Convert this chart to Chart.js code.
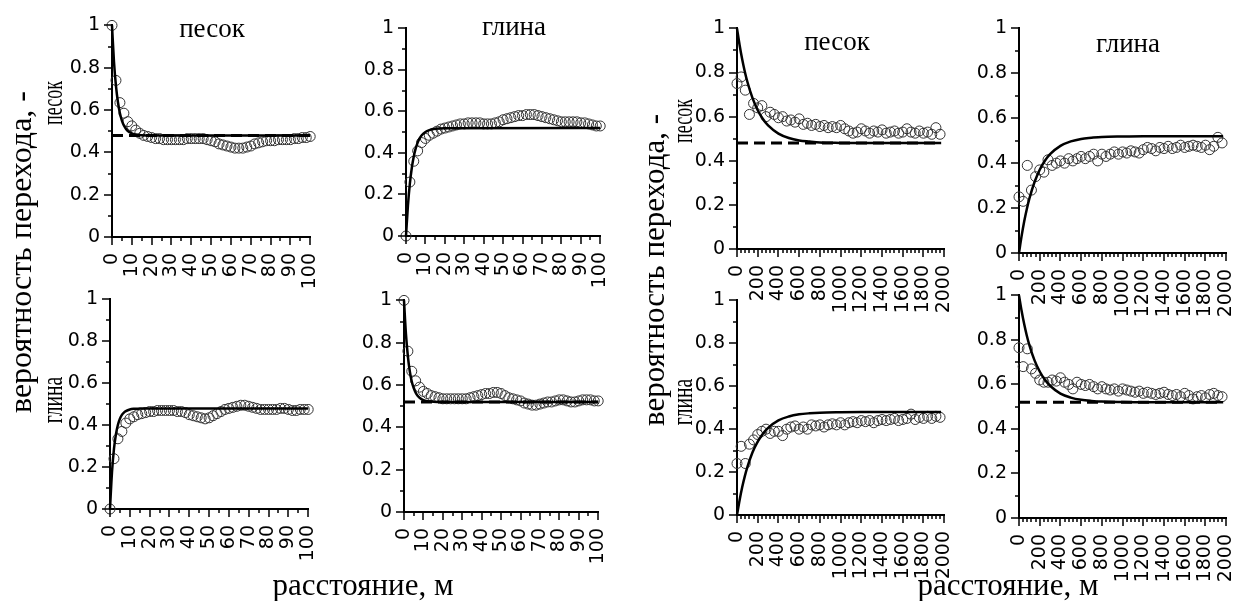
<!DOCTYPE html>
<html>
<head>
<meta charset="utf-8">
<script src="https://cdn.jsdelivr.net/npm/chart.js@4.4.0/dist/chart.umd.min.js"></script>
<style>
body { margin: 0; width: 1252px; height: 601px; overflow: hidden; background: #fff; position: relative; font-family: 'Liberation Serif', serif; }
canvas { position: absolute; }
.lbl { position: absolute; white-space: nowrap; line-height: 1; color: #000; transform: translate(-50%, -50%); }
</style>
</head>
<body>
<script>
// distances, m
const nearDist = [0, 2, 4, 6, 8, 10, 12, 14, 16, 18, 20, 22, 24, 26, 28, 30, 32, 34, 36, 38, 40, 42, 44, 46, 48, 50,
    52, 54, 56, 58, 60, 62, 64, 66, 68, 70, 72, 74, 76, 78, 80, 82, 84, 86, 88, 90, 92, 94, 96, 98, 100];
const farDist = [0, 40, 80, 120, 160, 200, 240, 280, 320, 360, 400, 440, 480, 520, 560, 600, 640, 680, 720, 760,
    800, 840, 880, 920, 960, 1000, 1040, 1080, 1120, 1160, 1200, 1240, 1280, 1320, 1360, 1400, 1440, 1480, 1520, 1560,
    1600, 1640, 1680, 1720, 1760, 1800, 1840, 1880, 1920, 1960];

// empirical transition probabilities
const sandSandNear = [1.0, 0.74, 0.635, 0.585, 0.545, 0.525, 0.505, 0.49, 0.48, 0.475, 0.47, 0.465, 0.465, 0.46, 0.46,
    0.46, 0.46, 0.46, 0.46, 0.465, 0.465, 0.465, 0.465, 0.465, 0.46, 0.455, 0.45, 0.44, 0.435, 0.43, 0.425, 0.42, 0.42,
    0.42, 0.425, 0.43, 0.44, 0.445, 0.45, 0.455, 0.455, 0.455, 0.46, 0.46, 0.46, 0.46, 0.465, 0.465, 0.47, 0.47, 0.475];
const sandClayNear = [0, 0.26, 0.36, 0.41, 0.45, 0.47, 0.485, 0.495, 0.505, 0.515, 0.52, 0.525, 0.53, 0.535, 0.54,
    0.54, 0.545, 0.545, 0.545, 0.545, 0.54, 0.54, 0.54, 0.545, 0.55, 0.56, 0.565, 0.57, 0.575, 0.58, 0.58, 0.585, 0.585,
    0.585, 0.58, 0.575, 0.57, 0.565, 0.56, 0.555, 0.55, 0.55, 0.55, 0.55, 0.55, 0.545, 0.545, 0.54, 0.535, 0.53, 0.53];
const claySandNear = [0, 0.24, 0.335, 0.37, 0.41, 0.43, 0.44, 0.45, 0.455, 0.46, 0.465, 0.465, 0.47, 0.47, 0.47,
    0.47, 0.47, 0.465, 0.465, 0.46, 0.45, 0.445, 0.44, 0.435, 0.43, 0.435, 0.445, 0.455, 0.465, 0.475, 0.48, 0.485, 0.49,
    0.495, 0.495, 0.49, 0.485, 0.48, 0.475, 0.475, 0.475, 0.475, 0.475, 0.48, 0.48, 0.475, 0.47, 0.47, 0.475, 0.475, 0.475];
const clayClayNear = [1.0, 0.76, 0.665, 0.62, 0.59, 0.57, 0.56, 0.55, 0.545, 0.54, 0.535, 0.535, 0.535, 0.535, 0.535,
    0.535, 0.535, 0.54, 0.545, 0.55, 0.555, 0.56, 0.56, 0.565, 0.565, 0.56, 0.55, 0.54, 0.535, 0.53, 0.525, 0.515, 0.51,
    0.505, 0.505, 0.51, 0.515, 0.52, 0.52, 0.525, 0.53, 0.53, 0.525, 0.52, 0.52, 0.525, 0.53, 0.53, 0.53, 0.525, 0.525];

const sandSandFar = [0.75, 0.78, 0.72, 0.61, 0.66, 0.64, 0.65, 0.60, 0.62, 0.61, 0.595, 0.60, 0.58, 0.585, 0.575,
    0.59, 0.565, 0.57, 0.56, 0.565, 0.555, 0.56, 0.55, 0.555, 0.55, 0.56, 0.545, 0.535, 0.525, 0.53, 0.545, 0.535, 0.525,
    0.535, 0.53, 0.54, 0.525, 0.53, 0.535, 0.525, 0.53, 0.545, 0.53, 0.525, 0.535, 0.525, 0.53, 0.52, 0.55, 0.52];
const sandClayFar = [0.25, 0.23, 0.39, 0.28, 0.34, 0.37, 0.36, 0.415, 0.39, 0.40, 0.41, 0.40, 0.42, 0.41, 0.42,
    0.43, 0.42, 0.43, 0.44, 0.41, 0.44, 0.43, 0.44, 0.45, 0.44, 0.45, 0.445, 0.455, 0.45, 0.445, 0.46, 0.47, 0.465, 0.455,
    0.47, 0.465, 0.475, 0.465, 0.47, 0.48, 0.47, 0.475, 0.48, 0.475, 0.47, 0.48, 0.46, 0.475, 0.515, 0.49];
const claySandFar = [0.24, 0.32, 0.24, 0.33, 0.35, 0.375, 0.39, 0.40, 0.38, 0.39, 0.39, 0.37, 0.40, 0.41, 0.415,
    0.40, 0.41, 0.40, 0.42, 0.415, 0.42, 0.41, 0.42, 0.425, 0.42, 0.43, 0.42, 0.43, 0.435, 0.43, 0.44, 0.435, 0.44, 0.43,
    0.44, 0.445, 0.44, 0.445, 0.45, 0.44, 0.445, 0.45, 0.47, 0.445, 0.455, 0.45, 0.46, 0.45, 0.46, 0.455];
const clayClayFar = [0.765, 0.68, 0.76, 0.67, 0.65, 0.62, 0.61, 0.61, 0.62, 0.615, 0.63, 0.61, 0.60, 0.58, 0.61,
    0.60, 0.595, 0.60, 0.59, 0.58, 0.59, 0.58, 0.575, 0.58, 0.57, 0.58, 0.575, 0.57, 0.565, 0.57, 0.56, 0.565, 0.56,
    0.555, 0.56, 0.565, 0.555, 0.55, 0.555, 0.545, 0.56, 0.55, 0.535, 0.545, 0.55, 0.54, 0.555, 0.56, 0.55, 0.545];

// fitted model curves
const modelNearDist = [0, 1, 2, 3, 4, 5, 6, 7, 8, 10, 12, 15, 20, 100];
const modelSandSandNear = [1.0, 0.828, 0.714, 0.637, 0.585, 0.55, 0.527, 0.512, 0.501, 0.49, 0.484, 0.481, 0.48, 0.48];
const modelSandClayNear = [0, 0.147, 0.253, 0.329, 0.383, 0.422, 0.45, 0.47, 0.484, 0.501, 0.51, 0.517, 0.519, 0.52];
const modelClaySandNear = [0, 0.175, 0.287, 0.357, 0.402, 0.431, 0.449, 0.46, 0.467, 0.475, 0.478, 0.479, 0.48, 0.48];
const modelClayClayNear = [1.0, 0.842, 0.736, 0.664, 0.617, 0.585, 0.564, 0.549, 0.54, 0.529, 0.524, 0.521, 0.52, 0.52];

const modelFarDist = [0, 25, 50, 75, 100, 150, 200, 250, 300, 400, 500, 600, 700, 800, 1000, 1200, 1500, 1970];
const modelSandSandFar = [1.0, 0.925, 0.86, 0.805, 0.758, 0.684, 0.629, 0.589, 0.56, 0.523, 0.503, 0.492, 0.487, 0.483, 0.481, 0.48, 0.48, 0.48];
const modelSandClayFar = [0, 0.075, 0.14, 0.195, 0.242, 0.316, 0.371, 0.411, 0.44, 0.477, 0.497, 0.508, 0.513, 0.517, 0.519, 0.52, 0.52, 0.52];
const modelClaySandFar = [0, 0.069, 0.129, 0.18, 0.223, 0.292, 0.342, 0.379, 0.406, 0.441, 0.459, 0.469, 0.474, 0.477, 0.479, 0.48, 0.48, 0.48];
const modelClayClayFar = [1.0, 0.931, 0.871, 0.82, 0.777, 0.708, 0.658, 0.621, 0.594, 0.559, 0.541, 0.531, 0.526, 0.523, 0.521, 0.52, 0.52, 0.52];

// proportions (sills)
const sandShare = 0.48;
const clayShare = 0.52;
const sillNearDist = [0, 100];
const sillFarDist = [0, 1970];

// axis ticks
const nearTicks = [0, 10, 20, 30, 40, 50, 60, 70, 80, 90, 100];
const farTicks = [0, 200, 400, 600, 800, 1000, 1200, 1400, 1600, 1800, 2000];
const probTicks = [0, 0.2, 0.4, 0.6, 0.8, 1];

// layout (pixel geometry of each plot box)
const AXIS_W = 46, AXIS_H = 72, PAD_T = 12, PAD_R = 14;
const panels = [
    { x0: 112, x1: 327, y1: 22, y0: 237, dist: nearDist, vals: sandSandNear, mx: modelNearDist, my: modelSandSandNear, sill: sandShare, near: true },
    { x0: 406, x1: 617, y1: 25, y0: 236, dist: nearDist, vals: sandClayNear, mx: modelNearDist, my: modelSandClayNear, sill: null, near: true },
    { x0: 110, x1: 325, y1: 296, y0: 509, dist: nearDist, vals: claySandNear, mx: modelNearDist, my: modelClaySandNear, sill: null, near: true },
    { x0: 404, x1: 615, y1: 297, y0: 512, dist: nearDist, vals: clayClayNear, mx: modelNearDist, my: modelClayClayNear, sill: clayShare, near: true },
    { x0: 737, x1: 961, y1: 25, y0: 249, dist: farDist, vals: sandSandFar, mx: modelFarDist, my: modelSandSandFar, sill: sandShare, near: false },
    { x0: 1019, x1: 1243, y1: 25, y0: 253, dist: farDist, vals: sandClayFar, mx: modelFarDist, my: modelSandClayFar, sill: null, near: false },
    { x0: 737, x1: 961, y1: 297, y0: 515, dist: farDist, vals: claySandFar, mx: modelFarDist, my: modelClaySandFar, sill: null, near: false },
    { x0: 1019, x1: 1243, y1: 292, y0: 518, dist: farDist, vals: clayClayFar, mx: modelFarDist, my: modelClayClayFar, sill: clayShare, near: false }
];

Chart.defaults.font.family = "'DejaVu Sans', sans-serif";
Chart.defaults.font.size = 19;
Chart.defaults.color = '#000';

// major + minor tick marks pointing outwards
const tickMarks = {
    id: 'tickMarks',
    afterDraw(chart, args, opts) {
        const ctx = chart.ctx;
        const xs = chart.scales.x;
        const ys = chart.scales.y;
        ctx.save();
        ctx.strokeStyle = '#000';
        ctx.lineWidth = 1.5;
        ctx.beginPath();
        const nx = Math.round((xs.max - xs.min) / opts.xMinor);
        for (let i = 0; i <= nx; i++) {
            const v = xs.min + i * opts.xMinor;
            const px = Math.round(xs.getPixelForValue(v));
            const len = (i % opts.xEvery === 0) ? 8 : 4;
            ctx.moveTo(px, xs.top);
            ctx.lineTo(px, xs.top + len);
        }
        for (let i = 0; i <= 10; i++) {
            const py = Math.round(ys.getPixelForValue(i / 10));
            const len = (i % 2 === 0) ? 8 : 4;
            ctx.moveTo(ys.right, py);
            ctx.lineTo(ys.right - len, py);
        }
        ctx.stroke();
        ctx.restore();
    }
};

function toPoints(xs, ys) {
    return xs.map((x, i) => ({ x: x, y: ys[i] }));
}

function makePanel(p) {
    const canvas = document.createElement('canvas');
    canvas.width = p.x1 - p.x0 + AXIS_W + PAD_R;
    canvas.height = p.y0 - p.y1 + PAD_T + AXIS_H;
    canvas.style.left = (p.x0 - AXIS_W) + 'px';
    canvas.style.top = (p.y1 - PAD_T) + 'px';
    document.body.appendChild(canvas);

    const datasets = [];
    if (p.sill !== null) {
        const sx = p.near ? sillNearDist : sillFarDist;
        datasets.push({
            data: toPoints(sx, sx.map(() => p.sill)),
            showLine: true, pointRadius: 0, borderColor: '#000', borderWidth: 3,
            borderDash: [11, 6], clip: false
        });
    }
    datasets.push({
        data: toPoints(p.mx, p.my),
        showLine: true, pointRadius: 0, borderColor: '#000', borderWidth: 2.5,
        cubicInterpolationMode: 'monotone', clip: false
    });
    datasets.push({
        data: toPoints(p.dist, p.vals),
        showLine: false, pointStyle: 'circle', pointRadius: 5,
        pointBorderColor: '#333', pointBackgroundColor: 'rgba(0,0,0,0)', pointBorderWidth: 1, clip: false
    });

    const xTicks = p.near ? nearTicks : farTicks;

    new Chart(canvas, {
        type: 'scatter',
        data: { datasets: datasets },
        options: {
            responsive: false,
            animation: false,
            devicePixelRatio: 1,
            layout: { padding: { top: PAD_T, right: PAD_R, left: 0, bottom: 0 } },
            plugins: {
                legend: { display: false },
                tooltip: { enabled: false },
                tickMarks: { xMinor: p.near ? 5 : 40, xEvery: p.near ? 2 : 5 }
            },
            scales: {
                x: {
                    type: 'linear', min: xTicks[0], max: xTicks[xTicks.length - 1],
                    afterBuildTicks: s => { s.ticks = xTicks.map(v => ({ value: v })); },
                    afterFit: s => { s.height = AXIS_H; },
                    ticks: { minRotation: 90, maxRotation: 90, padding: 8, autoSkip: false, callback: v => String(v) },
                    grid: { display: false, drawTicks: true, tickLength: 8 },
                    border: { display: true, color: '#000', width: 2 }
                },
                y: {
                    type: 'linear', min: 0, max: 1,
                    afterBuildTicks: s => { s.ticks = probTicks.map(v => ({ value: v })); },
                    afterFit: s => { s.width = AXIS_W; },
                    ticks: { padding: 4, callback: v => String(+v.toFixed(1)) },
                    grid: { display: false, drawTicks: true, tickLength: 8 },
                    border: { display: true, color: '#000', width: 2 }
                }
            }
        },
        plugins: [tickMarks]
    });
}

panels.forEach(makePanel);

// text labels
function addLabel(text, cx, cy, size, rotate, squeeze) {
    const d = document.createElement('div');
    d.className = 'lbl';
    d.textContent = text;
    d.style.left = cx + 'px';
    d.style.top = cy + 'px';
    d.style.fontSize = size + 'px';
    let t = 'translate(-50%, -50%)';
    if (rotate) t += ' rotate(-90deg)';
    if (squeeze) t += ' scaleX(' + squeeze + ')';
    d.style.transform = t;
    document.body.appendChild(d);
}

addLabel('песок', 212, 28, 27);
addLabel('глина', 514, 26, 27);
addLabel('песок', 837, 41, 27);
addLabel('глина', 1128, 43, 27);

addLabel('песок', 52, 103, 30, true, 0.6);
addLabel('глина', 52, 400, 30, true, 0.65);
addLabel('песок', 682, 121, 30, true, 0.6);
addLabel('глина', 682, 402, 30, true, 0.65);

addLabel('вероятность перехода, -', 20, 252, 32, true);
addLabel('вероятность перехода, -', 653, 270, 31, true);

addLabel('расстояние, м', 363, 584, 31);
addLabel('расстояние, м', 1008, 584, 31);
</script>
</body>
</html>
